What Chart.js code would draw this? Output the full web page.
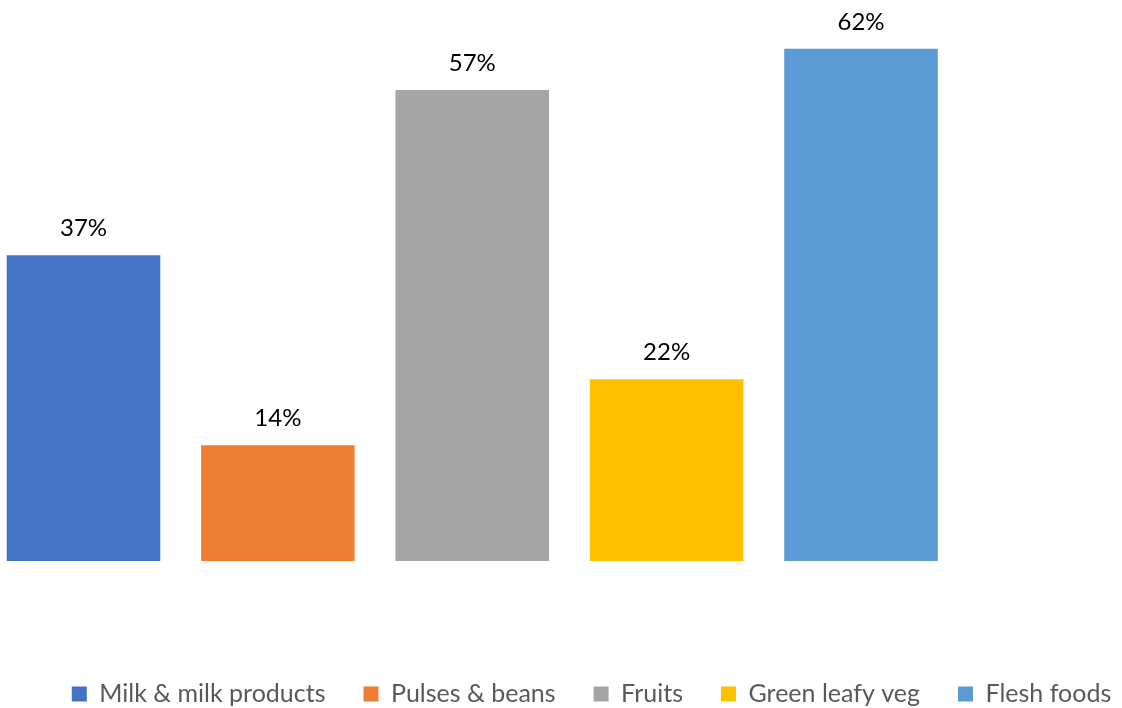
<!DOCTYPE html>
<html>
<head>
<meta charset="utf-8">
<script src="https://cdn.jsdelivr.net/npm/chart.js@4.4.1/dist/chart.umd.min.js"></script>
<style>
    html, body { margin: 0; padding: 0; background: #ffffff; }
    canvas { display: block; }
</style>
</head>
<body>
<canvas id="foodChart" width="1122" height="708"></canvas>
<script>
const categories = ['Milk & milk products', 'Pulses & beans', 'Fruits', 'Green leafy veg', 'Flesh foods'];
const shares = [37, 14, 57, 22, 62];
const barColors = ['#4472C4', '#ED7D31', '#A5A5A5', '#FFC000', '#5B9BD5'];

const fontFamily = "Lato, 'Open Sans', sans-serif";

// one dataset per category so every bar gets its own legend entry
const datasets = categories.map((name, i) => ({
    label: name,
    data: shares.map((v, j) => (j === i ? v : null)),
    backgroundColor: barColors[i],
    borderWidth: 0,
    grouped: false,
    categoryPercentage: 1,
    barPercentage: 0.79,
    clip: false
}));

// percentage labels drawn above each bar
const valueLabels = {
    id: 'valueLabels',
    afterDatasetsDraw(chart) {
        const ctx = chart.ctx;
        ctx.save();
        ctx.font = '24px ' + fontFamily;
        ctx.fillStyle = '#000000';
        ctx.textAlign = 'center';
        ctx.textBaseline = 'middle';
        chart.data.datasets.forEach((ds, i) => {
            const meta = chart.getDatasetMeta(i);
            meta.data.forEach((bar, j) => {
                const value = ds.data[j];
                if (value === null || value === undefined) {
                    return;
                }
                ctx.fillText(value + '%', bar.x, bar.y - 27);
            });
        });
        ctx.restore();
    }
};

// the legend row sits a little right of the canvas centre
const legendShift = {
    id: 'legendShift',
    afterLayout(chart) {
        chart.legend.left += 30.5;
        chart.legend.right += 30.5;
    }
};

new Chart(document.getElementById('foodChart'), {
    type: 'bar',
    data: {
        labels: categories,
        datasets: datasets
    },
    options: {
        responsive: false,
        animation: false,
        layout: {
            padding: { left: 0, right: 0, top: 24, bottom: 0 }
        },
        scales: {
            x: {
                offset: false,
                grid: { display: false },
                border: { display: false },
                ticks: { display: false },
                afterFit: (scale) => { scale.height = 82.5; }
            },
            y: {
                min: 0,
                max: 65,
                grid: { display: false },
                border: { display: false },
                ticks: { display: false },
                afterFit: (scale) => { scale.width = 83.5; }
            },
            yRight: {
                position: 'right',
                grid: { display: false },
                border: { display: false },
                ticks: { display: false },
                afterFit: (scale) => { scale.width = 261; }
            }
        },
        plugins: {
            tooltip: { enabled: false },
            legend: {
                position: 'bottom',
                maxHeight: 64.5,
                labels: {
                    boxWidth: 15,
                    boxHeight: 15,
                    padding: 38,
                    color: '#595959',
                    font: { family: fontFamily, size: 25 }
                }
            }
        }
    },
    plugins: [valueLabels, legendShift]
});
</script>
</body>
</html>
